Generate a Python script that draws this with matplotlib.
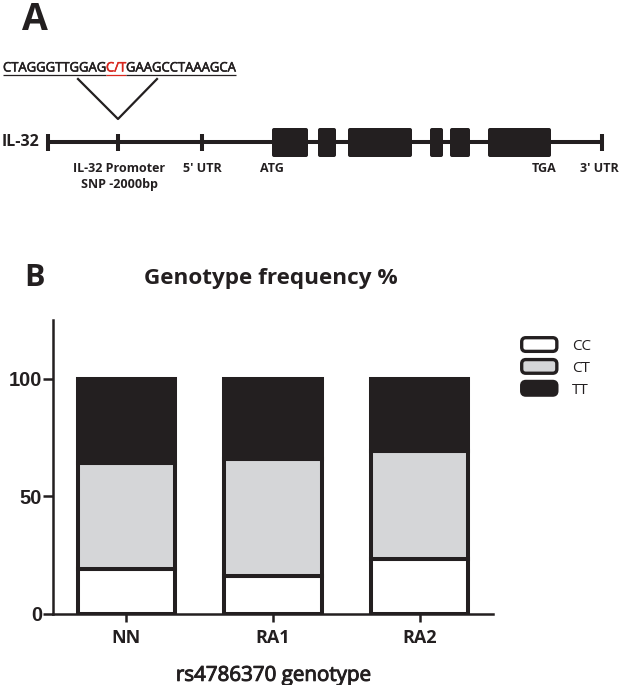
import matplotlib
matplotlib.use('Agg')
import matplotlib.pyplot as plt
import matplotlib.patheffects as pe
from matplotlib.patches import FancyBboxPatch, Patch
from matplotlib.legend_handler import HandlerPatch

# ---------------- data ----------------
groups = ['NN', 'RA1', 'RA2']
cc_pct = [19, 16, 23]
ct_pct = [45, 50, 46]
tt_pct = [36, 34, 31]
genotype_labels = ['CC', 'CT', 'TT']
y_ticks = [0, 50, 100]

seq_left = 'CTAGGGTTGGAG'
seq_snp = 'C/T'
seq_right = 'GAAGCCTAAAGCA'
# gene track (diagram units)
gene_start, gene_end = 48, 602
track_marks = [118, 202]
exon_starts = [272, 318, 348, 430, 450, 488]
exon_ends = [308, 336, 412, 443, 470, 551]
track_labels = ['IL-32 Promoter\nSNP -2000bp', "5' UTR", 'ATG', 'TGA', "3' UTR"]
track_label_x = [119, 202, 272, 544, 599]

# ---------------- style ----------------
W, H = 621, 685
DARK = '#231f20'
GREY = '#d5d6d8'
FONT = 'Open Sans'
fig = plt.figure(figsize=(W / 100, H / 100), dpi=100)

# ---------------- panel A ----------------
topH = 200
axA = fig.add_axes([0, (H - topH) / H, 1, topH / H])
axA.set_xlim(0, W)
axA.set_ylim(topH, 0)
axA.axis('off')

fig.text(22 / W, 1 - 20 / H, 'A', fontsize=27, fontweight='bold', family=FONT,
         color=DARK, ha='left', va='center')

fig.canvas.draw()
r = fig.canvas.get_renderer()
inv = axA.transData.inverted()
x = 3
base_y = 71.5
for part, col in [(seq_left, DARK), (seq_snp, '#d7261e'), (seq_right, DARK)]:
    t = axA.text(x, base_y, part, fontsize=9.4, family=FONT, color=col,
                 ha='left', va='baseline',
                 path_effects=[pe.withStroke(linewidth=0.4, foreground=col)])
    bb = t.get_window_extent(renderer=r)
    x0 = inv.transform((bb.x0, bb.y0))[0]
    x1 = inv.transform((bb.x1, bb.y0))[0]
    axA.plot([x0, x1], [74.5, 74.5], color=col, lw=0.9, solid_capstyle='butt')
    x = x1

# V connector
axA.plot([78, track_marks[0], 157], [79, 119, 79], color=DARK, lw=1.6)

axA.text(2, 142, 'IL-32', fontsize=11.5, fontweight='bold', family=FONT,
         color=DARK, ha='left', va='center')
axA.plot([gene_start, gene_end], [142, 142], color=DARK, lw=2.9, solid_capstyle='butt')
for mx in [gene_start] + track_marks + [gene_end]:
    axA.plot([mx, mx], [133.5, 150.5], color=DARK, lw=2.9, solid_capstyle='butt')
for s, e in zip(exon_starts, exon_ends):
    axA.add_patch(FancyBboxPatch((s, 128), e - s, 29,
                                 boxstyle='round,pad=0,rounding_size=2',
                                 fc=DARK, ec='none'))
for lab, lx in zip(track_labels, track_label_x):
    axA.text(lx, 162, lab, fontsize=9, fontweight='bold', family=FONT,
             color=DARK, ha='center', va='top', linespacing=1.3)

# ---------------- panel B ----------------
fig.text(24 / W, 1 - 278 / H, 'B', fontsize=22, fontweight='bold', family=FONT,
         color=DARK, ha='left', va='center')

left, right, bottom, top = 53, 493, 613.5, 320
axB = fig.add_axes([left / W, 1 - bottom / H, (right - left) / W, (bottom - top) / H])

xpos = list(range(len(groups)))
bw = 0.665
ELW = 2.9
axB.bar(xpos, cc_pct, bw, color='white', edgecolor=DARK, linewidth=ELW,
        label=genotype_labels[0], zorder=2)
axB.bar(xpos, ct_pct, bw, bottom=cc_pct, color=GREY, edgecolor=DARK,
        linewidth=ELW, label=genotype_labels[1], zorder=2)
tt_bottom = [a + b for a, b in zip(cc_pct, ct_pct)]
axB.bar(xpos, tt_pct, bw, bottom=tt_bottom, color=DARK, edgecolor=DARK,
        linewidth=ELW, label=genotype_labels[2], zorder=2)

axB.set_xlim(-0.5, len(groups) - 0.5)
axB.set_ylim(0, 125)
axB.set_yticks(y_ticks)
axB.set_yticklabels([str(v) for v in y_ticks], fontsize=14.5, fontweight='bold',
                    family='Liberation Sans', color=DARK)
axB.set_xticks(xpos)
axB.set_xticklabels(groups, fontsize=13, fontweight='bold', family=FONT, color=DARK)
for sp in ['top', 'right']:
    axB.spines[sp].set_visible(False)
for sp in ['left', 'bottom']:
    axB.spines[sp].set_linewidth(1.8)
    axB.spines[sp].set_color(DARK)
axB.tick_params(axis='y', length=7, width=1.8, pad=1, color=DARK)
axB.tick_params(axis='x', length=6, width=1.8, pad=5, color=DARK)

axB.set_xlabel('rs4786370 genotype', fontsize=14.8, family=FONT, color=DARK,
               labelpad=13,
               path_effects=[pe.withStroke(linewidth=0.7, foreground=DARK)])
fig.text(271 / W, 1 - 278 / H, 'Genotype frequency %', fontsize=16.2,
         fontweight='bold', family=FONT, color=DARK, ha='center', va='center')


class RoundHandler(HandlerPatch):
    def create_artists(self, legend, orig_handle, xdescent, ydescent, width,
                       height, fontsize, trans):
        p = FancyBboxPatch((-xdescent, -ydescent), width, height,
                           boxstyle='round,pad=0,rounding_size=3',
                           fc=orig_handle.get_facecolor(),
                           ec=orig_handle.get_edgecolor(),
                           lw=orig_handle.get_linewidth(), transform=trans)
        return [p]


handles = [Patch(facecolor=fc, edgecolor=DARK, linewidth=2.4)
           for fc in ['white', GREY, DARK]]
leg = fig.legend(handles, genotype_labels, loc='upper left',
                 bbox_to_anchor=(511 / W, 1 - 327 / H), frameon=False,
                 prop={'family': ['Liberation Sans Narrow', 'Open Sans'], 'size': 11},
                 handlelength=2.3, handleheight=1.0, handletextpad=1.0,
                 labelspacing=0.38, borderpad=0.2,
                 handler_map={Patch: RoundHandler()})
for t in leg.get_texts():
    t.set_color(DARK)

fig.savefig('out.png', dpi=100)
